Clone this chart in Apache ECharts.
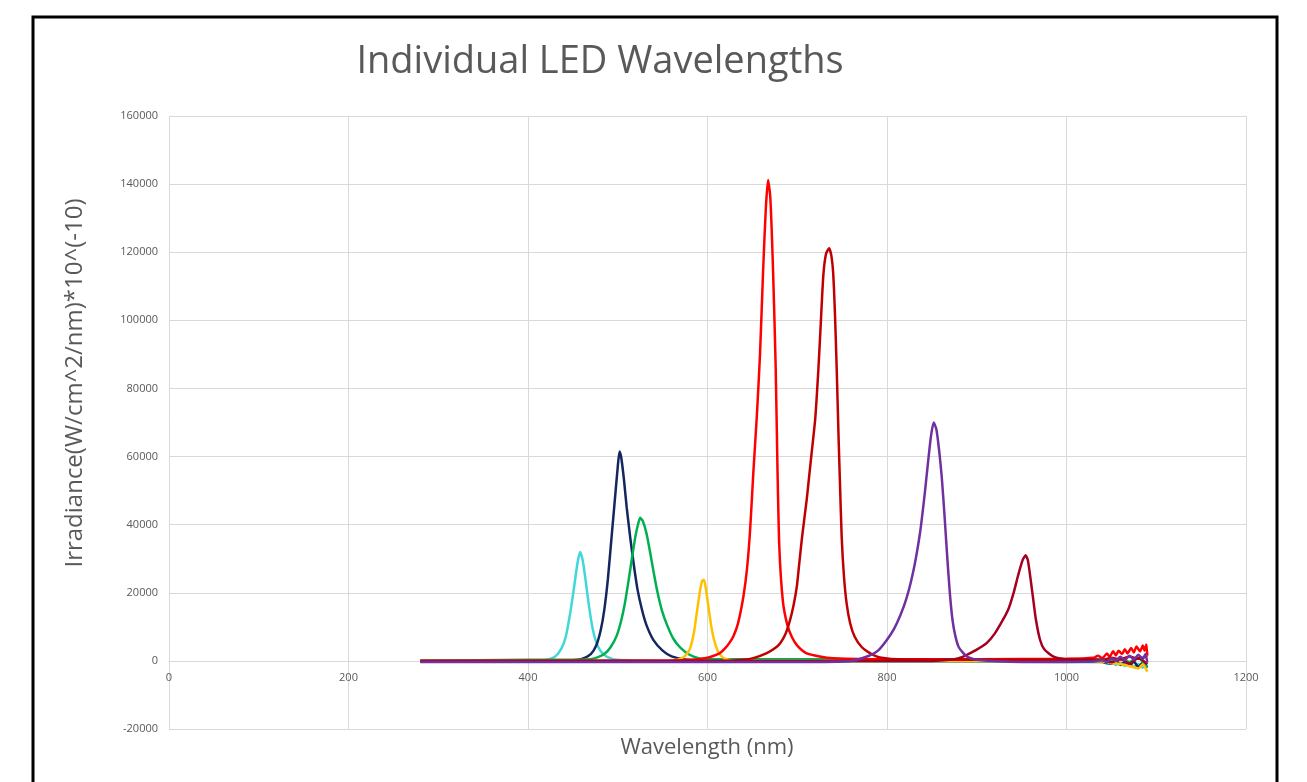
<!DOCTYPE html>
<html>
<head>
<meta charset="utf-8">
<title>Individual LED Wavelengths</title>
<script src="https://cdn.jsdelivr.net/npm/echarts@6/dist/echarts.min.js"></script>
<style>
  html, body { margin: 0; padding: 0; background: #fff; }
  #chart { width: 1307px; height: 782px; }
</style>
</head>
<body>
<div id="chart"></div>
<script>
// x ticks / y ticks
var xTicks = [0, 1200, 200];
var yTicks = [-20000, 160000, 20000];

// [wavelength nm, irradiance]
var cyan = [[280,0],[350,0],[400,100],[420,300],[430,1200],[437,3500],[442,7000],[447,14000],[451,21000],[455,28500],[458,32000],[461,29500],[464,24000],[468,16000],[472,9500],[476,5500],[481,2800],[488,1200],[500,300],[550,0],[700,-100],[900,-200],[1000,-300],[1030,-400],[1040,-200],[1045,-900],[1050,-400],[1055,-1200],[1060,-600],[1065,-1500],[1070,-700],[1075,-1800],[1080,-900],[1085,-2000],[1088,-1000],[1090,-1500]];
var navy = [[280,0],[400,0],[450,200],[460,600],[470,2000],[476,4500],[481,9000],[485,15000],[489,24000],[493,36000],[497,48000],[500,57000],[502,61500],[504,59500],[507,53000],[510,45000],[514,36000],[518,28000],[522,21000],[527,15000],[532,10500],[540,6000],[550,3000],[560,1300],[575,400],[600,0],[1000,-100],[1040,-300],[1050,-800],[1055,200],[1060,-1200],[1065,-300],[1070,-1500],[1075,-200],[1080,-1800],[1085,-500],[1090,-2000]];
var green = [[280,0],[400,300],[465,400],[475,800],[485,2000],[492,4000],[499,7500],[504,12000],[508,17000],[512,23500],[516,30500],[520,37000],[523,40500],[525,42000],[528,41000],[532,37500],[536,32000],[540,26000],[544,20500],[549,15000],[555,10500],[562,6500],[570,3800],[580,1800],[590,800],[600,500],[800,500],[1000,500],[1040,400],[1050,200],[1060,600],[1070,-300],[1080,800],[1090,-1800]];
var amber = [[280,0],[550,0],[565,300],[572,900],[577,2000],[581,4000],[585,8500],[588,14000],[591,19500],[594,23500],[596,23800],[598,21500],[601,16000],[604,10500],[607,6500],[611,3200],[615,1500],[620,600],[630,100],[650,0],[1000,-100],[1040,-200],[1050,-600],[1060,-900],[1070,-1500],[1080,-2200],[1085,-1000],[1090,-3200]];
var red = [[280,0],[560,100],[590,500],[600,900],[607,1500],[614,2300],[620,3800],[625,5500],[629,7300],[634,11000],[640,18900],[644,27000],[647.5,38500],[651,55000],[655,72000],[658.5,90000],[662,114800],[665,133000],[667.5,141200],[670,136000],[673,115000],[676,86000],[678,56000],[680,33500],[684,17500],[689,10500],[694,7000],[700,4500],[710,2300],[725,1300],[740,800],[800,500],[900,500],[1000,600],[1030,900],[1035,1500],[1040,800],[1045,2200],[1048,1200],[1052,2800],[1055,1600],[1058,3000],[1062,2000],[1065,3400],[1068,2200],[1072,3800],[1075,2500],[1078,4200],[1082,2800],[1085,4500],[1087,3000],[1089,4800],[1090,1500]];
var darkRed = [[280,0],[620,0],[640,300],[651,800],[666,2300],[675,3700],[681,5200],[687,8000],[692,12000],[696,16500],[699.5,21800],[702,28000],[705,35500],[708,42000],[710.5,47300],[713,53500],[716,61000],[720,71000],[723.5,85400],[726,98000],[729,113000],[732,119500],[735.5,121200],[738,119000],[740,114000],[742,102000],[744,85400],[746,66000],[747.5,53000],[749.5,36500],[752,25000],[755,16900],[759,11000],[764,7100],[772,4000],[781,2300],[792,1000],[820,400],[1000,300],[1040,300],[1050,900],[1060,400],[1070,1300],[1080,600],[1090,1500]];
var maroon = [[280,0],[850,0],[870,300],[880,800],[889,1800],[900,3300],[911,5200],[920,8000],[928,11500],[935,15000],[941,19900],[946,25000],[951,29500],[954.5,31000],[957,29500],[960,24000],[963,17900],[966,12000],[970.5,6200],[975,3500],[985,1300],[1000,500],[1040,200],[1050,-400],[1060,600],[1070,-800],[1080,900],[1090,-1000]];
var purple = [[280,-300],[700,-300],[760,0],[780,1500],[790,3000],[800,6200],[808,9500],[815,13500],[821,17800],[826,22500],[831,28500],[837,38000],[842,49000],[846,59000],[849,66000],[852,70000],[855,68000],[858,62000],[861,54000],[864,43000],[867,31000],[870,20000],[873,12000],[876,7500],[880,4000],[888.8,1300],[900,300],[950,-300],[1000,-300],[1030,-200],[1040,300],[1045,-400],[1050,800],[1055,0],[1060,1200],[1065,200],[1070,1500],[1075,400],[1080,1800],[1085,600],[1088,2000],[1090,-500]];

var seriesList = [
  ['cyan', cyan, '#3FD8DA'],
  ['navy', navy, '#14265E'],
  ['green', green, '#00B050'],
  ['amber', amber, '#FFC000'],
  ['red', red, '#FF0000'],
  ['darkRed', darkRed, '#C00000'],
  ['maroon', maroon, '#A50021'],
  ['purple', purple, '#7030A0']
];

function GenerateChart() {
  var chart = echarts.init(document.getElementById('chart'), null, {renderer: 'canvas'});
  var txt = '#595959';
  var plain = function (v) { return String(v); };

  chart.setOption({
    animation: false,
    grid: {left: 169, right: 61, top: 116, bottom: 53},
    xAxis: {
      type: 'value',
      min: xTicks[0], max: xTicks[1], interval: xTicks[2],
      // axis sits on the zero line (68px above the bottom of the grid)
      offset: -68,
      axisLine: {show: true, onZero: false, lineStyle: {color: '#D9D9D9'}},
      axisTick: {show: false},
      axisLabel: {color: txt, fontFamily: 'Open Sans', fontSize: 11, margin: 11, formatter: plain},
      splitLine: {show: true, lineStyle: {color: '#D9D9D9'}}
    },
    yAxis: {
      type: 'value',
      min: yTicks[0], max: yTicks[1], interval: yTicks[2],
      axisLine: {show: false},
      axisTick: {show: false},
      axisLabel: {color: txt, fontFamily: 'Open Sans', fontSize: 11, margin: 11, formatter: plain},
      splitLine: {show: true, lineStyle: {color: '#D9D9D9'}}
    },
    graphic: [
      {type: 'rect', shape: {x: 33, y: 17, width: 1244, height: 800},
        style: {fill: 'none', stroke: '#000', lineWidth: 3}},
      {type: 'text', x: 600, y: 62,
        style: {text: 'Individual LED Wavelengths', fill: txt, font: '38px "Open Sans"', align: 'center', verticalAlign: 'middle'}},
      {type: 'text', x: 75, y: 383, rotation: Math.PI / 2,
        style: {text: 'Irradiance(W/cm^2/nm)*10^(-10)', fill: txt, font: '24px "Open Sans"', align: 'center', verticalAlign: 'middle'}},
      {type: 'text', x: 707, y: 748,
        style: {text: 'Wavelength (nm)', fill: txt, font: '22px "Open Sans"', align: 'center', verticalAlign: 'middle'}}
    ],
    series: seriesList.map(function (s) {
      return {
        name: s[0],
        type: 'line',
        data: s[1],
        showSymbol: false,
        smooth: 0.2,
        lineStyle: {color: s[2], width: 2.5},
        itemStyle: {color: s[2]}
      };
    })
  });
}

GenerateChart();
</script>
</body>
</html>
